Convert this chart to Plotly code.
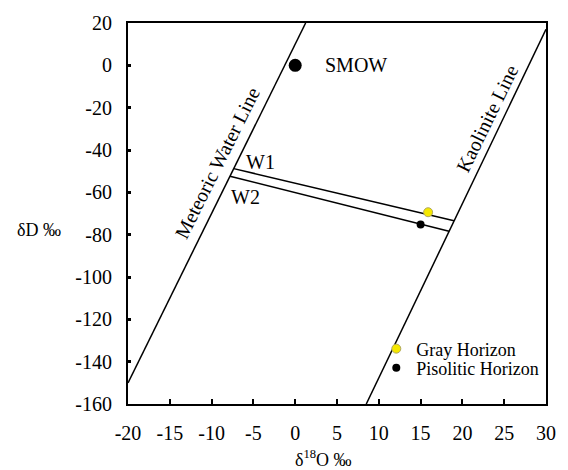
import plotly.graph_objects as go

# ---- data ----
mwl_x = [-20, 1.25]
mwl_y = [-150, 20]
kao_x = [8.5, 30]
kao_y = [-160, 17]
w1_x = [-7.35, 19.0]
w1_y = [-48.8, -73.4]
w2_x = [-7.8, 18.4]
w2_y = [-52.4, -78.4]
smow_x = [0]
smow_y = [0]
gray_x = [15.9]
gray_y = [-69.4]
piso_x = [15.0]
piso_y = [-75.2]

x_ticks = [-20, -15, -10, -5, 0, 5, 10, 15, 20, 25, 30]
x_ticktext = ["-20", "-15", "-10", "-5", "0", "5", "10", "15", "20", "25", "30"]
y_ticks = [20, 0, -20, -40, -60, -80, -100, -120, -140, -160]
y_ticktext = ["20", "0", "-20", "-40", "-60", "-80", "-100", "-120", "-140", "-160"]

FONT = "Liberation Serif"

fig = go.Figure()
line_style = dict(color="black", width=1.5)
for xs, ys, nm in [(mwl_x, mwl_y, "Meteoric Water Line"), (kao_x, kao_y, "Kaolinite Line"),
                   (w1_x, w1_y, "W1"), (w2_x, w2_y, "W2")]:
    fig.add_trace(go.Scatter(x=xs, y=ys, mode="lines", line=line_style, name=nm,
                             showlegend=False, hoverinfo="skip"))

fig.add_trace(go.Scatter(x=smow_x, y=smow_y, mode="markers", name="SMOW",
                         marker=dict(color="black", size=13), showlegend=False))
fig.add_trace(go.Scatter(x=gray_x, y=gray_y, mode="markers", name="Gray Horizon",
                         marker=dict(color="#f5e800", size=9, line=dict(color="#b0a860", width=1)),
                         legend="legend"))
fig.add_trace(go.Scatter(x=piso_x, y=piso_y, mode="markers", name="Pisolitic Horizon",
                         marker=dict(color="black", size=8), legend="legend2"))

ann = dict(showarrow=False, font=dict(family=FONT, size=20, color="black"))
fig.add_annotation(x=-9.36, y=-46.0, text="Meteoric Water Line", textangle=-63.5,
                   xanchor="center", yanchor="middle", **ann)
fig.add_annotation(x=22.9, y=-25.2, text="Kaolinite Line", textangle=-64,
                   xanchor="center", yanchor="middle", **ann)
fig.add_annotation(x=3.3, y=0, text="SMOW", xanchor="left", yanchor="middle", **ann)
fig.add_annotation(x=-4.16, y=-45.5, text="W1", xanchor="center", yanchor="middle", **ann)
fig.add_annotation(x=-5.93, y=-62, text="W2", xanchor="center", yanchor="middle", **ann)
fig.add_annotation(xref="paper", yref="paper", x=0.468, y=-0.143, text="δ<sup>18</sup>O ‰",
                   xanchor="center", yanchor="middle", showarrow=False,
                   font=dict(family=FONT, size=18, color="black"))
fig.add_annotation(xref="paper", yref="paper", x=-0.213, y=0.458, text="δD ‰",
                   xanchor="center", yanchor="middle", showarrow=False,
                   font=dict(family=FONT, size=18, color="black"))

fig.update_xaxes(range=[-20, 30], tickvals=x_ticks, ticktext=x_ticktext,
                 showgrid=False, zeroline=False, showline=True, linecolor="black",
                 linewidth=2, mirror=True, ticks="inside", ticklen=5, tickwidth=1.5,
                 tickcolor="black", ticklabelstandoff=10,
                 tickfont=dict(family=FONT, size=20, color="black"))
fig.update_yaxes(range=[-160, 20], tickvals=y_ticks, ticktext=y_ticktext,
                 showgrid=False, zeroline=False, showline=True, linecolor="black",
                 linewidth=2, mirror=True, ticks="inside", ticklen=3, tickwidth=2.5,
                 tickcolor="black", ticklabelstandoff=10,
                 tickfont=dict(family=FONT, size=20, color="black"))

leg_common = dict(xanchor="left", yanchor="top", bgcolor="rgba(0,0,0,0)", borderwidth=0,
                  font=dict(family=FONT, size=18, color="black"), itemwidth=30)
fig.update_layout(
    width=568, height=470,
    margin=dict(l=128, r=17, t=22, b=66),
    plot_bgcolor="white", paper_bgcolor="white",
    showlegend=True,
    legend=dict(x=0.594, y=0.193, **leg_common),
    legend2=dict(x=0.594, y=0.143, **leg_common),
)

fig.write_html("out.html")
